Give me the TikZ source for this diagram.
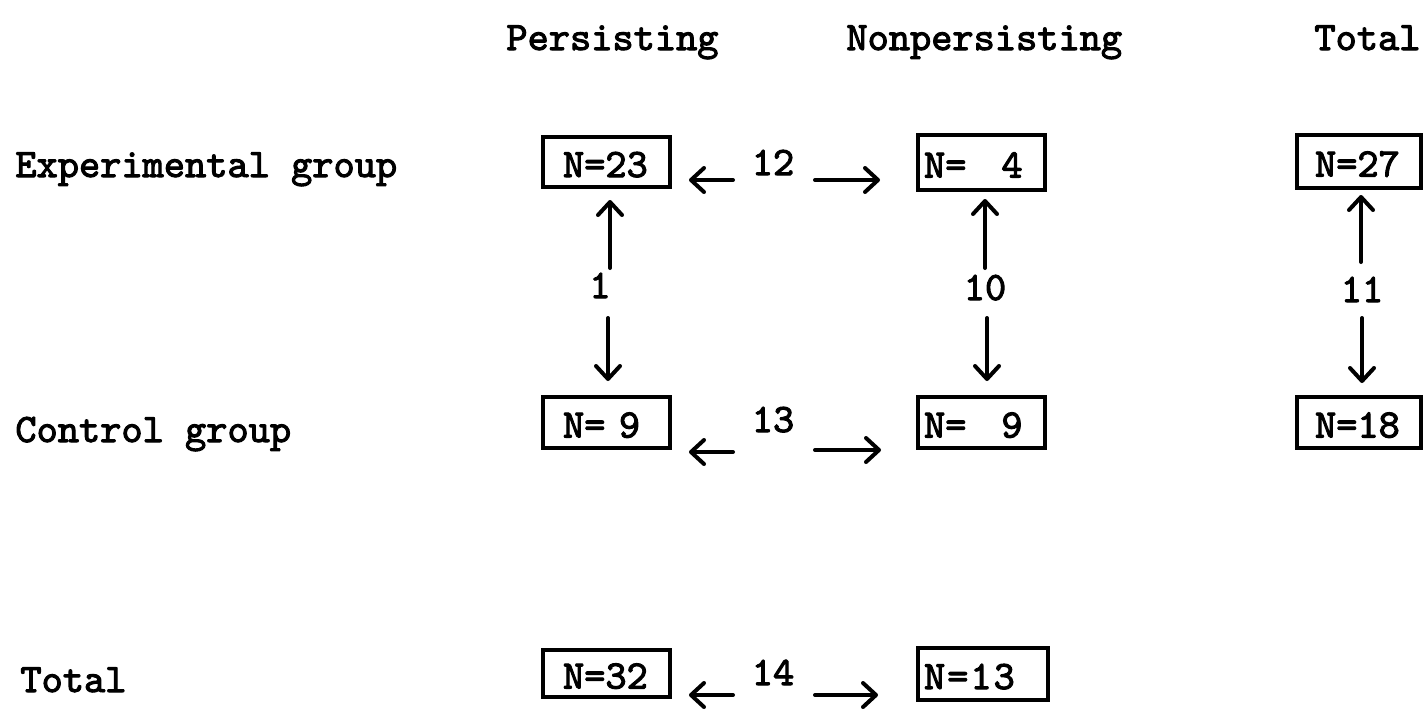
\documentclass[tikz,border=0pt]{standalone}
\usepackage{fontspec}
\newfontfamily\tw{lmmono10-regular.otf}[FakeBold=2.5]
\usetikzlibrary{arrows.meta}
\tikzset{
  lbl/.style={anchor=base west, inner sep=0pt, font=\tw\fontsize{20.2}{24}\selectfont},
  num/.style={anchor=base, inner sep=0pt, font=\tw\fontsize{20.2}{24}\selectfont},
  nbox/.style={draw, line width=2pt, align=left, inner ysep=0pt,
    text height=15pt, text depth=0pt, font=\tw\fontsize{20.2}{24}\selectfont},
  arr/.style={line width=2pt, line cap=round, -{Straight Barb[length=6.5pt,width=12pt,round]}}
}
\begin{document}
\begin{tikzpicture}[x=0.5pt,y=-0.5pt]
\useasboundingbox (0,0) rectangle (1423,709);
% headers
\node[lbl] (hP) at (506,50) {Persisting};
\node[lbl] (hN) at (846,50) {Nonpersisting};
\node[lbl] (hT) at (1314,50) {Total};
% row labels
\node[lbl] (rE) at (15,177) {Experimental group};
\node[lbl] (rC) at (15,442) {Control group};
\node[lbl] (rT) at (20,692) {Total};
% boxes
\node[nbox, inner xsep=10pt, text width=43.5pt, minimum height=25pt] (n23) at (606.5,162) {N=23};
\node[nbox, inner xsep=3pt, text width=57.5pt, minimum height=27.5pt] (n4) at (981.5,162.5) {N=\kern2pt\ \kern2pt\ 4};
\node[nbox, inner xsep=9pt, text width=44pt, minimum height=26.5pt] (n27) at (1359,161.5) {N=27};
\node[nbox, inner xsep=10pt, text width=43.5pt, minimum height=25.5pt] (n9a) at (606.5,422.5) {N=\ 9};
\node[nbox, inner xsep=3pt, text width=57.5pt, minimum height=25.5pt] (n9b) at (981.5,422.5) {N=\kern2pt\ \kern2pt\ 9};
\node[nbox, inner xsep=9pt, text width=44pt, minimum height=25.5pt] (n18) at (1359,422.5) {N=18};
\node[nbox, inner xsep=10pt, text width=43.5pt, minimum height=23.5pt] (n32) at (606.5,673.5) {N=32};
\node[nbox, inner xsep=3pt, text width=59pt, minimum height=26pt] (n13) at (983,674) {N\kern1pt=\kern1pt1\kern1pt3};
% numbers
\node[num] (l12) at (773,175) {12};
\node[num] (l13) at (773,432) {13};
\node[num] (l14) at (773,685) {14};
\node[num] (l1) at (600,298) {1};
\node[num] (l10) at (985,300) {10};
\node[num] (l11) at (1362,302) {11};
% arrow tails
\coordinate (a12L) at (733,180);
\coordinate (a12R) at (815,180);
\coordinate (a13L) at (733,452);
\coordinate (a13R) at (815,450);
\coordinate (a14L) at (733,695);
\coordinate (a14R) at (815,695);
\coordinate (a1U) at (610,268);
\coordinate (a1D) at (608,318);
\coordinate (a10U) at (985,268);
\coordinate (a10D) at (987,318);
\coordinate (a11U) at (1361,262);
\coordinate (a11D) at (1362,318);
% horizontal arrows
\draw[arr, shorten >=8.5pt] (a12L) -- (a12L -| n23.east);
\draw[arr, shorten >=18pt] (a12R) -- (a12R -| n4.west);
\draw[arr, shorten >=8.5pt] (a13L) -- (a13L -| n9a.east);
\draw[arr, shorten >=17.5pt] (a13R) -- (a13R -| n9b.west);
\draw[arr, shorten >=8.5pt] (a14L) -- (a14L -| n32.east);
\draw[arr, shorten >=19pt] (a14R) -- (a14R -| n13.west);
% vertical arrows
\draw[arr, shorten >=5.5pt] (a1U) -- (a1U |- n23.south);
\draw[arr, shorten >=7pt] (a1D) -- (a1D |- n9a.north);
\draw[arr, shorten >=3.5pt] (a10U) -- (a10U |- n4.south);
\draw[arr, shorten >=7pt] (a10D) -- (a10D |- n9b.north);
\draw[arr, shorten >=2.5pt] (a11U) -- (a11U |- n27.south);
\draw[arr, shorten >=6pt] (a11D) -- (a11D |- n18.north);
\end{tikzpicture}
\end{document}
